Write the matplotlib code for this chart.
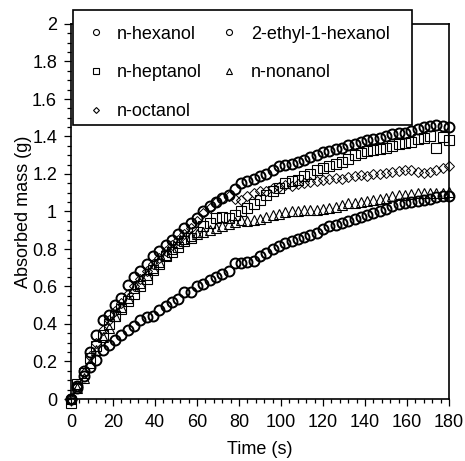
import matplotlib
matplotlib.use("Agg")
import matplotlib.pyplot as plt
from matplotlib.patches import Rectangle
from matplotlib.ticker import MultipleLocator

plt.rcParams['font.family'] = ['Liberation Sans', 'DejaVu Sans']

# sampling times (s)
t = [0, 3, 6, 9, 12, 15, 18, 21, 24, 27, 30, 33, 36, 39, 42, 45, 48, 51, 54, 57,
     60, 63, 66, 69, 72, 75, 78, 81, 84, 87, 90, 93, 96, 99, 102, 105, 108, 111, 114, 117,
     120, 123, 126, 129, 132, 135, 138, 141, 144, 147, 150, 153, 156, 159, 162, 165, 168, 171, 174, 177,
     180]

# absorbed mass (g)
hexanol = [0.00, 0.07, 0.15, 0.25, 0.34, 0.42, 0.45, 0.50, 0.54, 0.61, 0.65, 0.68, 0.72, 0.76, 0.79, 0.82, 0.85, 0.88, 0.91, 0.94,
           0.965, 1.00, 1.03, 1.05, 1.07, 1.09, 1.12, 1.15, 1.165, 1.175, 1.19, 1.20, 1.22, 1.24, 1.25, 1.255, 1.265, 1.275, 1.29, 1.30,
           1.315, 1.325, 1.335, 1.34, 1.355, 1.36, 1.37, 1.38, 1.385, 1.39, 1.40, 1.415, 1.42, 1.42, 1.43, 1.44, 1.45, 1.455, 1.46, 1.455,
           1.45]
ethylhexanol = [0.00, 0.06, 0.12, 0.17, 0.21, 0.26, 0.29, 0.315, 0.34, 0.37, 0.39, 0.42, 0.435, 0.445, 0.475, 0.495, 0.515, 0.535, 0.57, 0.57,
                0.60, 0.615, 0.635, 0.65, 0.665, 0.68, 0.725, 0.725, 0.73, 0.735, 0.765, 0.78, 0.80, 0.815, 0.83, 0.845, 0.855, 0.865, 0.875, 0.885,
                0.905, 0.92, 0.93, 0.94, 0.95, 0.96, 0.97, 0.98, 0.99, 1.005, 1.015, 1.03, 1.04, 1.045, 1.05, 1.055, 1.06, 1.065, 1.075, 1.08,
                1.08]
heptanol = [-0.02, 0.08, 0.14, 0.22, 0.28, 0.34, 0.40, 0.44, 0.48, 0.52, 0.56, 0.60, 0.64, 0.69, 0.72, 0.76, 0.785, 0.81, 0.84, 0.86,
            0.89, 0.92, 0.94, 0.965, 0.97, 0.965, 0.98, 1.00, 1.02, 1.04, 1.06, 1.09, 1.11, 1.125, 1.15, 1.165, 1.17, 1.19, 1.20, 1.22,
            1.23, 1.24, 1.255, 1.265, 1.28, 1.30, 1.31, 1.32, 1.33, 1.335, 1.34, 1.35, 1.36, 1.365, 1.37, 1.385, 1.39, 1.40, 1.34, 1.395,
            1.38]
octanol = [0.00, 0.07, 0.14, 0.23, 0.30, 0.37, 0.42, 0.47, 0.51, 0.56, 0.60, 0.64, 0.68, 0.72, 0.75, 0.79, 0.82, 0.85, 0.88, 0.91,
           0.95, 0.99, 1.02, 1.05, 1.07, 1.08, 1.065, 1.06, 1.08, 1.10, 1.11, 1.11, 1.125, 1.13, 1.14, 1.135, 1.145, 1.15, 1.155, 1.16,
           1.17, 1.175, 1.18, 1.175, 1.185, 1.19, 1.195, 1.19, 1.20, 1.20, 1.205, 1.21, 1.215, 1.22, 1.22, 1.21, 1.205, 1.21, 1.22, 1.23,
           1.24]
nonanol = [0.00, 0.06, 0.11, 0.19, 0.26, 0.33, 0.38, 0.44, 0.49, 0.54, 0.59, 0.62, 0.66, 0.70, 0.73, 0.77, 0.80, 0.83, 0.855, 0.87,
           0.88, 0.89, 0.90, 0.91, 0.92, 0.935, 0.945, 0.955, 0.95, 0.955, 0.96, 0.97, 0.98, 0.985, 0.995, 1.00, 1.005, 1.01, 1.01, 1.01,
           1.015, 1.02, 1.025, 1.035, 1.045, 1.045, 1.05, 1.055, 1.06, 1.065, 1.07, 1.08, 1.09, 1.09, 1.095, 1.10, 1.10, 1.10, 1.10, 1.10,
           1.105]

fig = plt.figure(figsize=(4.65, 4.61), dpi=100)
ax = fig.add_axes([71/465, 1-399/461, 378/465, 375/461])

h1, = ax.plot(t, hexanol, 'o', ms=7.2, mfc='none', mec='k', mew=1.4, clip_on=False)
h4, = ax.plot(t, ethylhexanol, 'o', ms=7.2, mfc='none', mec='k', mew=1.4, clip_on=False)
h2, = ax.plot(t, heptanol, 's', ms=6.5, mfc='none', mec='k', mew=0.8, clip_on=False)
h3, = ax.plot(t, octanol, 'D', ms=5, mfc='none', mec='k', mew=0.7, clip_on=False)
h5, = ax.plot(t, nonanol, '^', ms=6.5, mfc='none', mec='k', mew=0.8, clip_on=False)

ax.set_xlim(0, 180)
ax.set_ylim(0, 2)
ax.xaxis.set_major_locator(MultipleLocator(20))
ax.xaxis.set_minor_locator(MultipleLocator(4))
ax.yaxis.set_minor_locator(MultipleLocator(0.05))
ax.set_yticks([0, 0.2, 0.4, 0.6, 0.8, 1, 1.2, 1.4, 1.6, 1.8, 2])
ax.set_yticklabels(['0', '0.2', '0.4', '0.6', '0.8', '1', '1.2', '1.4', '1.6', '1.8', '2'])
ax.tick_params(which='both', direction='out', labelsize=13, width=0.9)
ax.tick_params(which='major', length=5)
ax.tick_params(which='minor', length=3)
ax.tick_params(axis='x', pad=6)
ax.tick_params(axis='y', pad=5)
for s in ax.spines.values():
    s.set_linewidth(1.2)

ax.set_xlabel('Time (s)', fontsize=13, labelpad=7)
ax.set_ylabel('Absorbed mass (g)', fontsize=13, labelpad=0)

# legend box drawn on its own, entries placed inside it
box = Rectangle((73/465, 1-125/461), 339/465, 115/461, transform=fig.transFigure,
                facecolor='white', edgecolor='k', linewidth=1.2, zorder=3)
fig.add_artist(box)

leg = fig.legend([h1, h2, h3, h4, h5],
                 ['n-hexanol', 'n-heptanol', 'n-octanol', '2-ethyl-1-hexanol', 'n-nonanol'],
                 ncol=2, loc='upper left',
                 bbox_to_anchor=(73/465, 1-12/461),
                 fontsize=13, markerscale=0.6, handlelength=1.0, handletextpad=0.7,
                 columnspacing=1.0, labelspacing=1.2, borderpad=0.75, borderaxespad=0,
                 frameon=False)
leg.set_zorder(4)
for lh in leg.legend_handles:
    lh.set_markeredgewidth(0.8)

fig.savefig('out.png', dpi=100)
